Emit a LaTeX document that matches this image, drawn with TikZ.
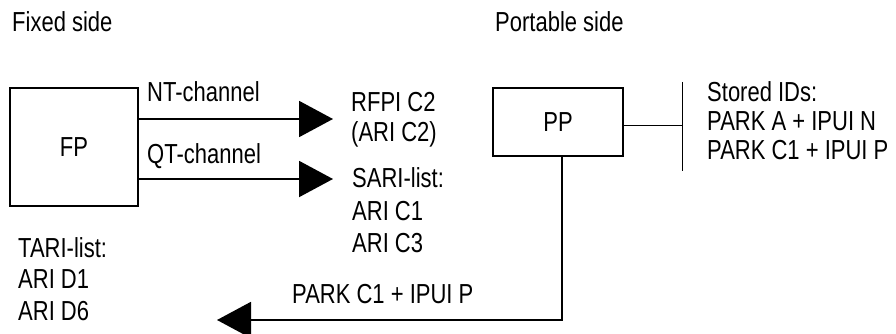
\documentclass[tikz,border=0pt]{standalone}
\usepackage{fontspec}
\setmainfont{Liberation Sans}[FakeStretch=0.8]
\usetikzlibrary{arrows.meta}
\begin{document}
\begin{tikzpicture}[x=1pt,y=-1pt,
  lbl/.style={inner sep=0pt, anchor=base west, font=\fontsize{27.5}{31}\selectfont},
  box/.style={draw, line width=2pt, inner sep=0pt, font=\fontsize{27.5}{31}\selectfont},
  arr/.style={line width=2pt, -{Triangle[length=34pt,width=36pt]}},
  thin line/.style={line width=1pt}]
\useasboundingbox (0,0) rectangle (896,334);
% headings
\node[lbl] (fixed) at (12,32) {Fixed side};
\node[lbl] (portable) at (495,32) {Portable side};
% FP box
\node[box, minimum width=128pt, minimum height=118pt] (fp) at (74,147) {FP};
\coordinate (ntEnd) at (333,119);
\coordinate (qtEnd) at (333,179);
\draw[arr] (fp.east |- ntEnd) -- (ntEnd);
\draw[arr] (fp.east |- qtEnd) -- (qtEnd);
\node[lbl] (ntl) at (147,102) {NT-channel};
\node[lbl] (qtl) at (147,163) {QT-channel};
% received IDs
\node[lbl] (rfpi) at (351,112) {RFPI C2};
\node[lbl] (aric2) at (351,142) {(ARI C2)};
\node[lbl] (sari) at (352,187) {SARI-list:};
\node[lbl] (aric1) at (352,220) {ARI C1};
\node[lbl] (aric3) at (352,252) {ARI C3};
% PP box
\node[box, minimum width=130pt, minimum height=68pt] (pp) at (558,122) {PP};
\coordinate (bar) at (682,126);
\coordinate (barTop) at (682,82);
\coordinate (barBot) at (682,171);
\draw[thin line] (pp.east |- bar) -- (bar);
\draw[thin line] (barTop) -- (barBot);
\node[lbl] (stored) at (707,102) {Stored IDs:};
\node[lbl] (parka) at (707,131) {PARK A + IPUI N};
\node[lbl] (parkc) at (707,159) {PARK C1 + IPUI P};
% return path
\coordinate (retEnd) at (217,320);
\draw[arr] ([xshift=4pt]pp.south) |- (retEnd);
\node[lbl] (retl) at (292,303) {PARK C1 + IPUI P};
% TARI list
\node[lbl] (tari) at (18,257) {TARI-list:};
\node[lbl] (arid1) at (18,288) {ARI D1};
\node[lbl] (arid6) at (18,320) {ARI D6};
\end{tikzpicture}
\end{document}
